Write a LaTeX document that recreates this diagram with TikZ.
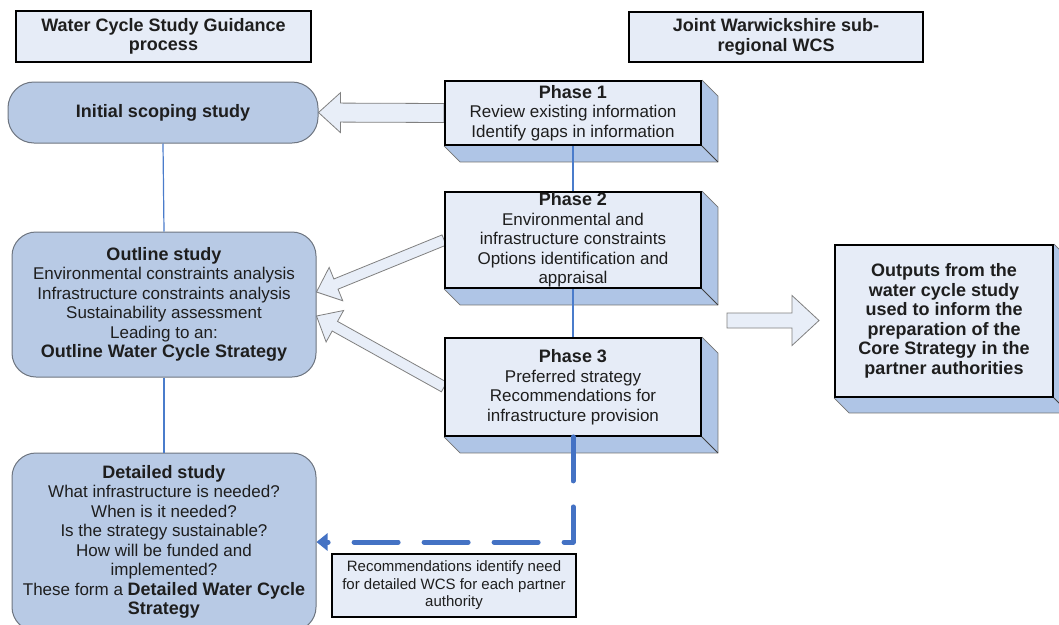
\documentclass[tikz,border=0pt]{standalone}
\usepackage{fontspec}
\setmainfont{Liberation Sans}
\usetikzlibrary{calc,backgrounds,arrows.meta}
\definecolor{lightfill}{HTML}{E6ECF7}
\definecolor{extfill}{HTML}{AFC5E6}
\definecolor{roundfill}{HTML}{B8CAE5}
\definecolor{roundline}{HTML}{6E7580}
\definecolor{connblue}{HTML}{4A7CCB}
\definecolor{dashblue}{HTML}{4472C4}
\definecolor{arrfill}{HTML}{E8EEF8}
\definecolor{arrline}{HTML}{808080}
\definecolor{txt}{HTML}{1E1E1E}
\newcommand\rf{\fontsize{17}{19.5}\selectfont}
\newcommand\bh{\fontsize{18}{19.5}\selectfont\bfseries}
\newcommand\smf{\fontsize{15}{17.5}\selectfont}
% block arrow: start, tip, shaft half width, head half width, head length
\newcommand\blockarrow[5]{%
  \coordinate (ba@n) at ($(#2)!#5!(#1)$);
  \draw[barr] ($(#1)!#3!90:(#2)$) -- ($(ba@n)!#3!90:(#2)$) -- ($(ba@n)!#4!90:(#2)$) -- (#2)
    -- ($(ba@n)!#4!-90:(#2)$) -- ($(ba@n)!#3!-90:(#2)$) -- ($(#1)!#3!-90:(#2)$) -- cycle;}
% extrusion of a 3D box: node, depth
\newcommand\extrude[2]{%
  \begin{scope}[on background layer]
  \fill[extfill] (#1.north east) -- ($(#1.north east)+(#2,#2)$) -- ($(#1.south east)+(#2,#2)$)
     -- ($(#1.south west)+(#2,#2)$) -- (#1.south west) -- cycle;
  \draw[extouter] (#1.north east) -- ($(#1.north east)+(#2,#2)$) -- ($(#1.south east)+(#2,#2)$)
     -- ($(#1.south west)+(#2,#2)$) -- (#1.south west);
  \draw[extline] (#1.south east) -- ($(#1.south east)+(#2,#2)$);
  \end{scope}}
\begin{document}
\begin{tikzpicture}[x=1pt,y=-1pt,
  titlebox/.style={draw=black, line width=1.3pt, fill=lightfill, align=center, inner sep=0pt, text=txt, font=\bh},
  phasebox/.style={draw=black, line width=1.8pt, fill=lightfill, align=center, inner sep=0pt, text=txt, font=\rf},
  roundbox/.style={draw=roundline, line width=1pt, fill=roundfill, rounded corners=24pt, align=center, inner sep=0pt, text=txt, font=\rf},
  recbox/.style={draw=black, line width=1.3pt, fill=lightfill, align=center, inner sep=0pt, text=txt, font=\smf},
  extouter/.style={draw=black!55, line width=0.7pt},
  extline/.style={draw=black!75, line width=0.8pt},
  conn/.style={draw=connblue, line width=1.2pt},
  barr/.style={draw=arrline, fill=arrfill, line width=0.8pt, line join=miter},
  dasharrow/.style={draw=dashblue, line width=5pt, dash pattern=on 44pt off 26pt, line cap=round, line join=round, -{Triangle[length=11pt,width=17pt]}}
]
\useasboundingbox (0,0) rectangle (1059,624);
\begin{scope}[on background layer]
\fill[white] (0,0) rectangle (1059,624);
\end{scope}

% titles
\node[titlebox, minimum width=295, minimum height=51] (t1) at (163.5,36.5) {Water Cycle Study Guidance\\process};
\node[titlebox, minimum width=294, minimum height=50] (t2) at (776,37) {Joint Warwickshire sub-\\regional WCS};

% left column
\node[roundbox, rounded corners=26pt, minimum width=310, minimum height=61] (init) at (163,112.5) {\bh Initial scoping study};
\node[roundbox, minimum width=304, minimum height=145] (outline) at (164,304.5)
  {{\bh Outline study}\\Environmental constraints analysis\\Infrastructure constraints analysis\\Sustainability assessment\\Leading to an:\\{\bh Outline Water Cycle Strategy}};
\node[roundbox, minimum width=304, minimum height=178] (det) at (164,542)
  {{\bh Detailed study}\\What infrastructure is needed?\\When is it needed?\\Is the strategy sustainable?\\How will be funded and\\implemented?\\These form a {\bh Detailed Water Cycle}\\{\bh Strategy}};

% phases
\node[phasebox, minimum width=256, minimum height=64] (p1) at (573,113)
  {{\bh Phase 1}\\Review existing information\\Identify gaps in information};
\node[phasebox, minimum width=256, minimum height=96] (p2) at (573,240)
  {{\bh Phase 2}\\Environmental and\\infrastructure constraints\\Options identification and\\appraisal};
\node[phasebox, minimum width=256, minimum height=98] (p3) at (573,387)
  {{\bh Phase 3}\\Preferred strategy\\Recommendations for\\infrastructure provision};
\extrude{p1}{16}
\extrude{p2}{16}
\extrude{p3}{16}

% outputs
\node[phasebox, font=\bh, minimum width=218, minimum height=152] (out) at (944,321)
  {Outputs from the\\water cycle study\\used to inform the\\preparation of the\\Core Strategy in the\\partner authorities};
\extrude{out}{15}

% recommendation note
\node[recbox, minimum width=244, minimum height=63] (rec) at (454,585.5)
  {Recommendations identify need\\for detailed WCS for each partner\\authority};

% thin connectors
\draw[conn] (init.south) -- (outline.north);
\draw[conn] (outline.south) -- (det.north);
\draw[conn] (p1.south) -- (p2.north);
\draw[conn] (p2.south) -- (p3.north);

% block arrows
\coordinate (a2t) at ([yshift=12.5pt]outline.east);
\coordinate (a3t) at ([yshift=-11.5pt]outline.east);
\coordinate (a4s) at (727,320.5);
\coordinate (a4t) at (819,320.5);
\begin{scope}[on background layer]
\blockarrow{p1.west}{init.east}{9.5pt}{20pt}{22pt}
\blockarrow{p2.west}{a2t}{5.5pt}{18pt}{21pt}
\blockarrow{p3.west}{a3t}{5.5pt}{18pt}{21pt}
\blockarrow{a4s}{a4t}{7.5pt}{25pt}{27pt}
\end{scope}

% dashed arrow
\draw[dasharrow] (p3.south) |- (det.east);
\end{tikzpicture}
\end{document}
